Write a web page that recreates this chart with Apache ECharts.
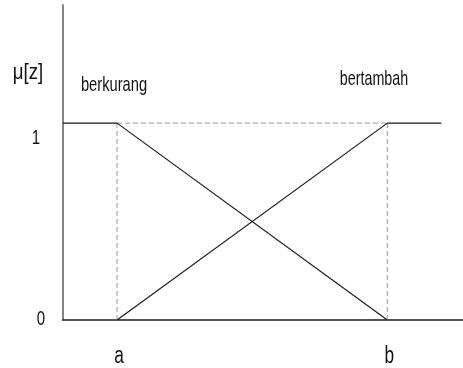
<!DOCTYPE html>
<html>
<head>
<meta charset="utf-8">
<script src="https://cdn.jsdelivr.net/npm/echarts@6/dist/echarts.min.js"></script>
<style>
html, body { margin: 0; padding: 0; background: #fff; }
#chart { width: 463px; height: 368px; }
</style>
</head>
<body>
<div id="chart"></div>
<script>
// membership function: berkurang / bertambah between a and b
const xTicks = [1, 6]
const xTickLabels = ['a', 'b']
const yTicks = [0, 1]
const yTickLabels = ['0', '1']
const yName = 'μ[z]'
const seriesNames = ['berkurang', 'bertambah']
const berkurang = [[0, 1], [1, 1], [6, 0]]
const bertambah = [[1, 0], [6, 1], [7, 1]]
const guideTop = [[1, 1], [6, 1]]
const guideA = [[1, 0], [1, 1]]
const guideB = [[6, 0], [6, 1]]

const chart = echarts.init(document.getElementById('chart'))

const solid = (name, data) => ({
  name: name,
  type: 'line',
  data: data,
  symbol: 'none',
  silent: true,
  animation: false,
  lineStyle: { color: '#1a1a1a', width: 1.2 }
})
const dashed = data => ({
  type: 'line',
  data: data,
  symbol: 'none',
  silent: true,
  animation: false,
  lineStyle: { color: '#999', width: 1, type: [5, 3] }
})

chart.setOption({
  animation: false,
  grid: { left: 63, right: 0, top: 5, bottom: 48 },
  xAxis: {
    type: 'value',
    min: 0,
    max: 7.4,
    axisLine: { show: true, onZero: false, lineStyle: { color: '#1a1a1a', width: 1.5 } },
    axisTick: { show: false },
    axisLabel: { show: false },
    splitLine: { show: false }
  },
  yAxis: {
    type: 'value',
    min: 0,
    max: 1.6,
    axisLine: { show: true, lineStyle: { color: '#858585', width: 2 } },
    axisTick: { show: false },
    axisLabel: { show: false },
    splitLine: { show: false }
  },
  series: [
    dashed(guideTop),
    dashed(guideA),
    dashed(guideB),
    solid(seriesNames[0], berkurang),
    solid(seriesNames[1], bertambah)
  ]
})

const font = size => size + 'px "Liberation Sans", Arial, sans-serif'
const label = (text, x, y, size, sx) => ({
  type: 'text',
  x: x,
  y: y,
  scaleX: sx,
  silent: true,
  style: { text: text, font: font(size), fill: '#111', align: 'center', verticalAlign: 'middle' }
})

const graphics = []
xTicks.forEach((v, i) => {
  const p = chart.convertToPixel({ gridIndex: 0 }, [v, 0])
  graphics.push(label(xTickLabels[i], p[0] + 2, p[1] + 37, 23, 0.75))
})
yTicks.forEach((v, i) => {
  const p = chart.convertToPixel({ gridIndex: 0 }, [0, v])
  // the "1" sits a little below its level in the original
  graphics.push(label(yTickLabels[i], v === 0 ? 41 : 36, v === 0 ? p[1] - 1 : p[1] + 15, 20, 0.75))
})
graphics.push(label(yName, 28, 73, 22, 0.85))
graphics.push(label(seriesNames[0], 114, 85, 21, 0.7))
graphics.push(label(seriesNames[1], 374, 79, 21, 0.68))

chart.setOption({ graphic: graphics })
</script>
</body>
</html>
